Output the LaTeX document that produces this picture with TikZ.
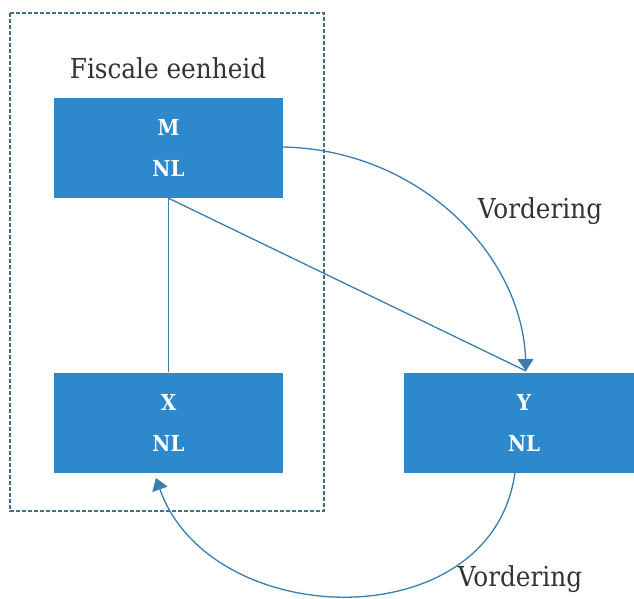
\documentclass[tikz,border=0pt]{standalone}
\usepackage{fontspec}
\setmainfont{DejaVu Serif Condensed}
\usetikzlibrary{arrows.meta}
\definecolor{boxblue}{HTML}{2D89CC}
\definecolor{linkblue}{HTML}{3A7DB0}
\definecolor{frameblue}{HTML}{3F6F8C}
\definecolor{labelgrey}{HTML}{333333}
\tikzset{
  entity/.style={fill=boxblue, draw=none, minimum width=229pt, minimum height=100pt,
    inner sep=0pt, text=white, font=\fontsize{22}{41}\selectfont\bfseries, align=center},
  link/.style={draw=linkblue, line width=1.3pt},
  tip/.style={-{Triangle[width=16pt,length=12pt]}},
  caption/.style={text=labelgrey, font=\fontsize{27.5}{30}\selectfont, inner sep=0pt},
  group/.style={draw=frameblue, line width=1.3pt, dash pattern=on 4pt off 2pt}
}
\begin{document}
\begin{tikzpicture}[x=1pt,y=-1pt]
  \useasboundingbox (0,0) rectangle (634,599);
  % fiscal unity frame
  \draw[group] (10,13) rectangle (324,511);
  \node[caption] (title) at (168,68) {Fiscale eenheid};
  % entities
  \node[entity] (M) at (168.5,148) {M\\NL};
  \node[entity] (X) at (168.5,422.5) {X\\NL};
  \node[entity, minimum width=240pt] (Y) at (524,422.5) {Y\\NL};
  \coordinate (ytop) at (526,371);
  \coordinate (xtip) at (156,478);
  % ownership lines
  \draw[link] (M.south) -- (X.north);
  \draw[link] (M.south) -- (ytop);
  % claims
  \draw[link, tip] (M.east |- 0,147) .. controls (420,150) and (522,255) .. (ytop);
  \draw[link, tip] (515,472.5) .. controls (492,640) and (210,632) .. (xtip);
  \node[caption] (v1) at (540,211) {Vordering};
  \node[caption] (v2) at (520,579) {Vordering};
\end{tikzpicture}
\end{document}
